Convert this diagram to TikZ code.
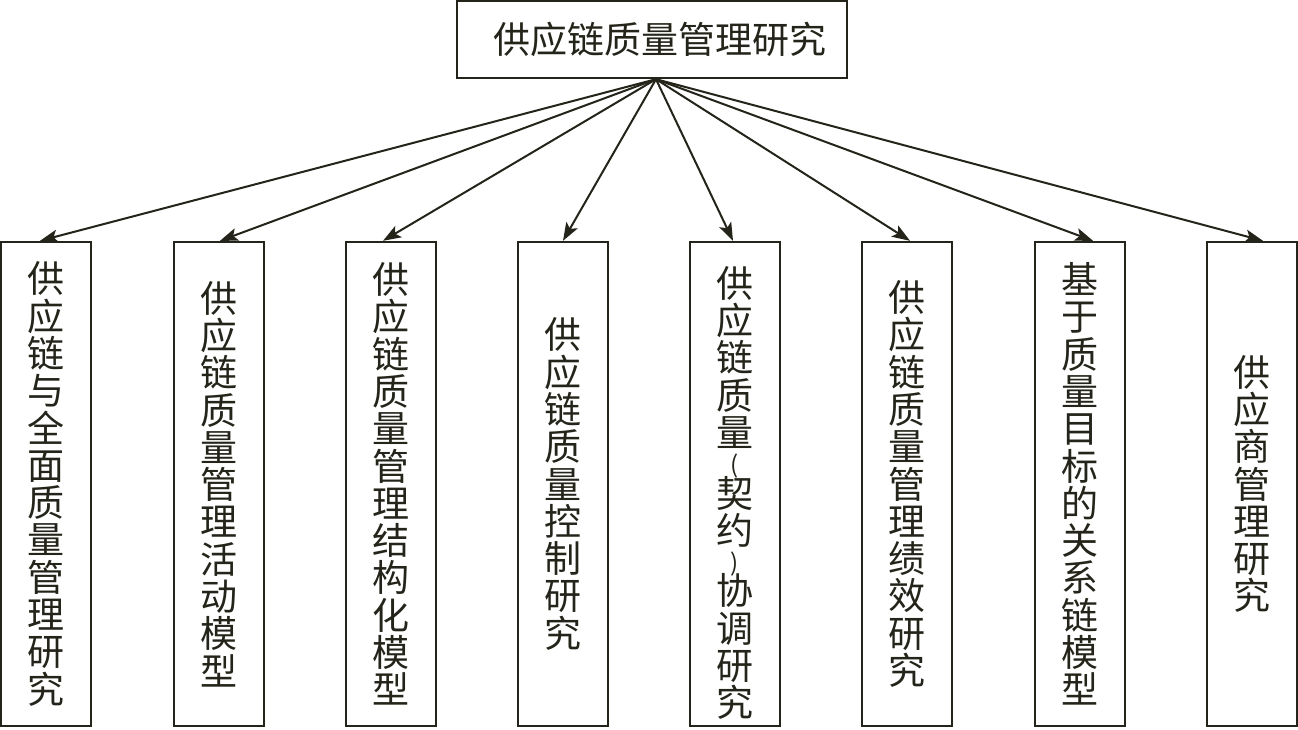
\documentclass[tikz,border=0pt]{standalone}
\usepackage{fontspec}
\newfontfamily\cjk{Noto Sans CJK SC}
\usetikzlibrary{arrows.meta}
\definecolor{ink}{HTML}{24241A}
\tikzset{
  boxtext/.style={inner sep=0pt, align=center, text=ink,
    font=\cjk\fontsize{37}{37.3}\selectfont},
  boxstyle/.style={boxtext, draw=ink, line width=2.4pt, fill=white,
    minimum width=90pt, minimum height=484pt},
  topstyle/.style={draw=ink, line width=2.4pt, fill=white, inner sep=0pt,
    minimum width=390pt, minimum height=77pt, text=ink,
    font=\cjk\fontsize{37}{37.3}\selectfont},
  link/.style={draw=ink, line width=2pt, -{Stealth[length=18pt,width=13pt,inset=4pt]}}
}
\begin{document}
\begin{tikzpicture}[x=1pt,y=-1pt]
\useasboundingbox (0,0) rectangle (1298,730);
\fill[white] (0,0) rectangle (1298,730);
\node[topstyle] (top) at (652,39.5) {\hspace*{16pt}供应链质量管理研究};
\coordinate (apex) at ([xshift=4pt]top.south);
\node[boxstyle] (b1) at (46,484) {供\\应\\链\\与\\全\\面\\质\\量\\管\\理\\研\\究};
\node[boxstyle] (b2) at (219,484) {供\\应\\链\\质\\量\\管\\理\\活\\动\\模\\型};
\node[boxstyle] (b3) at (391,484) {供\\应\\链\\质\\量\\管\\理\\结\\构\\化\\模\\型};
\node[boxstyle] (b4) at (563,484) {供\\应\\链\\质\\量\\控\\制\\研\\究};
\node[boxstyle] (b5) at (735,484) {};
\node[boxtext] (t5) at ([yshift=-9pt]b5.center) {供\\应\\链\\质\\量\\[-10pt]{\fontsize{24}{24}\selectfont(}\\[-4pt]契\\约\\[-10pt]{\fontsize{24}{24}\selectfont)}\\[-4pt]协\\调\\研\\究};
\node[boxstyle] (b6) at (907,484) {供\\应\\链\\质\\量\\管\\理\\绩\\效\\研\\究};
\node[boxstyle] (b7) at (1080,484) {基\\于\\质\\量\\目\\标\\的\\关\\系\\链\\模\\型};
\node[boxstyle] (b8) at (1252,484) {供\\应\\商\\管\\理\\研\\究};
\draw[link] (apex) -- ([xshift=-6pt]b1.north);
\draw[link] (apex) -- ([xshift=1pt]b2.north);
\draw[link] (apex) -- ([xshift=-8pt]b3.north);
\draw[link] (apex) -- ([xshift=0pt]b4.north);
\draw[link] (apex) -- ([xshift=-2pt]b5.north);
\draw[link] (apex) -- ([xshift=3pt]b6.north);
\draw[link] (apex) -- ([xshift=13pt]b7.north);
\draw[link] (apex) -- ([xshift=11pt]b8.north);
\end{tikzpicture}
\end{document}
